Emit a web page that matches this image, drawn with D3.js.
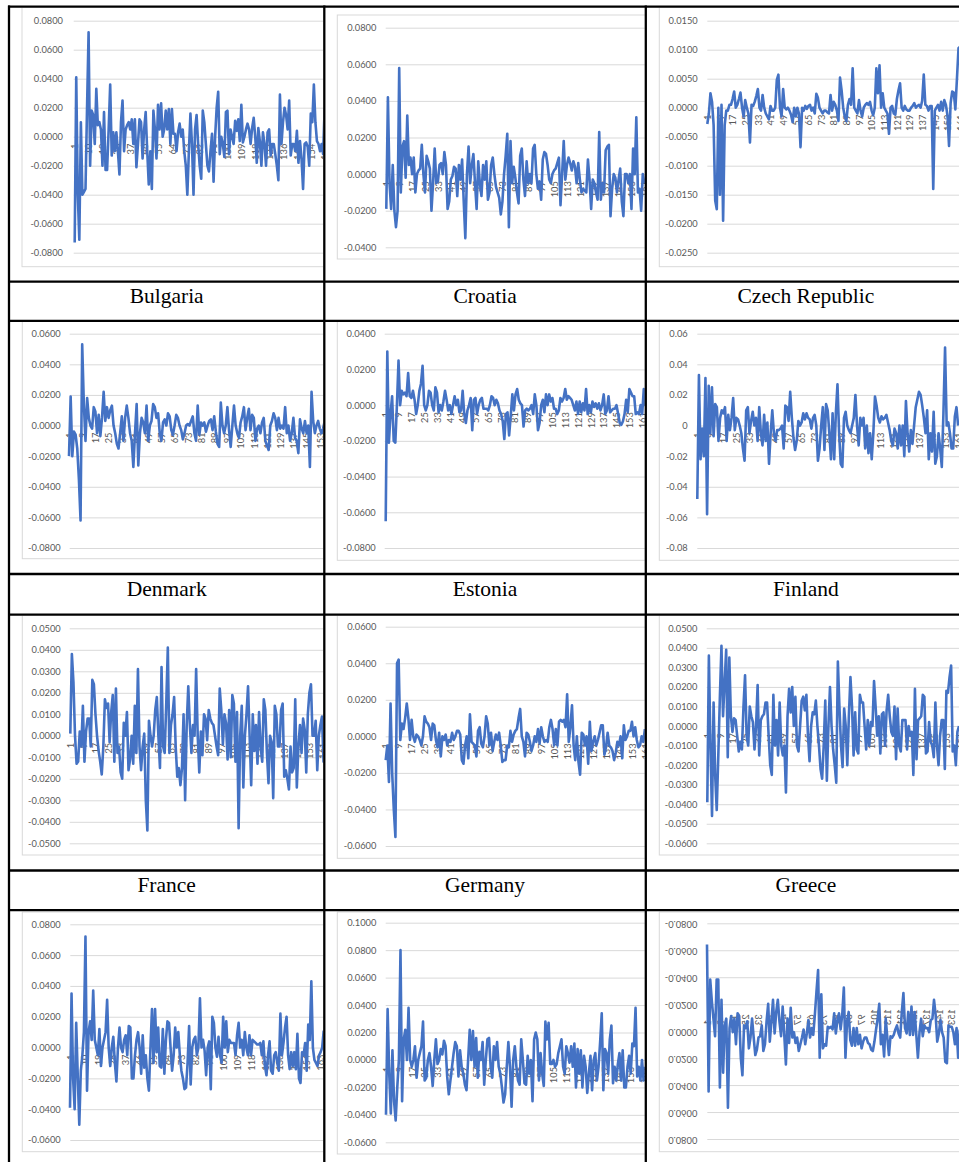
<!DOCTYPE html>
<html>
<head>
<meta charset="utf-8">
<script src="https://cdn.jsdelivr.net/npm/d3@7"></script>
<style>
  html, body { margin: 0; padding: 0; background: #fff; }
  svg { display: block; }
</style>
</head>
<body>
<svg id="sheet" width="959" height="1162"></svg>
<script>
// ---- series values (one per country panel) ----
const bulgaria = [-0.073,0.041,-0.040,-0.071,0.010,-0.040,-0.038,-0.036,0.020,0.072,
  -0.020,0.018,0.015,-0.005,0.033,0.008,0.010,0.005,-0.020,0.017,
  -0.023,-0.023,0.005,0.036,-0.013,0.003,-0.010,0.003,-0.010,-0.026,
  0.010,0.025,-0.010,0.005,0.008,0.010,0.005,0.012,-0.005,0.012,
  -0.021,-0.005,0.012,0.010,-0.015,0.005,0.017,-0.010,-0.033,-0.010,
  -0.036,0.018,0.005,-0.015,0.022,0.005,0.023,0.000,0.005,0.018,
  0.005,0.019,-0.005,0.019,0.002,0.002,-0.010,0.003,0.009,0.000,
  0.005,-0.010,-0.020,-0.040,-0.010,0.016,-0.005,-0.040,0.005,0.015,
  -0.005,-0.020,-0.029,0.018,0.010,-0.005,-0.020,-0.024,-0.010,0.002,
  -0.031,0.000,0.020,0.031,-0.012,0.000,-0.005,-0.014,0.017,0.018,
  -0.012,0.005,0.000,-0.005,0.011,0.004,0.012,-0.003,0.022,-0.004,
  0.000,0.005,0.009,0.005,-0.005,0.006,0.013,0.000,-0.018,0.006,
  -0.003,-0.020,0.003,-0.005,-0.020,0.003,0.005,-0.013,-0.005,-0.005,
  -0.012,-0.020,-0.030,0.029,-0.005,0.010,0.020,0.015,0.005,0.025,
  -0.013,-0.005,-0.005,-0.010,0.004,-0.018,-0.003,-0.015,-0.036,-0.005,
  -0.004,-0.007,-0.020,0.016,0.010,0.036,0.010,-0.003,-0.005,-0.010,
  -0.005,-0.012,0.020];

const croatia = [-0.019,0.042,-0.005,-0.019,0.005,-0.02,-0.029,-0.02,0.058,-0.01,
  0.015,0.018,-0.002,0.032,0.005,0.009,0.0,0.009,-0.01,0.0,
  0.002,0.003,0.016,0.0,-0.01,0.01,0.007,0.003,-0.02,-0.005,
  0.014,-0.005,-0.004,0.005,0.006,0.0,0.012,0.005,-0.019,-0.015,
  -0.003,-0.001,0.004,0.003,-0.012,0.005,-0.003,0.008,-0.015,-0.035,
  0.0,0.015,-0.005,0.005,0.011,-0.005,-0.019,0.007,-0.005,-0.012,
  0.005,-0.003,0.007,-0.014,-0.01,0.005,0.009,0.0,-0.007,-0.01,
  -0.013,-0.022,-0.015,0.0,0.01,0.022,-0.029,0.018,-0.005,0.004,
  -0.002,-0.01,-0.016,0.01,0.014,-0.003,-0.012,0.007,-0.005,0.0,
  -0.005,0.014,0.016,0.0,-0.008,-0.004,-0.014,0.008,0.012,0.011,
  0.005,-0.003,-0.005,0.0,0.002,0.003,0.006,0.009,-0.017,0.0,
  0.018,-0.003,0.005,0.009,0.006,0.002,0.007,0.004,-0.005,0.006,
  -0.003,-0.01,-0.008,-0.009,-0.01,0.008,-0.003,-0.019,-0.003,-0.005,
  -0.01,-0.014,0.023,-0.014,-0.005,-0.01,0.013,0.015,0.016,-0.023,
  -0.008,0.0,-0.002,-0.01,-0.003,0.003,-0.015,-0.023,0.0,0.0,
  -0.005,0.0,-0.019,0.014,0.0,0.031,-0.01,-0.008,-0.02,0.0,
  -0.005];

const czech = [-0.0028,-0.001,0.0025,0.001,-0.003,-0.016,-0.0175,0.0,-0.015,0.0005,-0.0195,-0.003,
  -0.0005,-0.0005,0.0005,0.0005,0.0015,0.0028,0.0,0.0005,0.0015,0.0026,0.0,-0.0015,0.0013,0.0,-0.001,
  -0.006,0.0005,0.0003,0.001,0.002,0.0032,0.0,-0.0005,0.0022,0.0,
  -0.001,-0.0015,-0.002,0.0003,-0.0005,-0.0005,0.0,0.0048,0.0057,
  0.0,-0.0015,0.0032,0.0,-0.0003,0.0,-0.0005,-0.0012,-0.0025,0.0,-0.0015,0.0,-0.001,-0.0068,
  0.0,-0.0005,0.0003,-0.0002,0.0003,0.0005,-0.0005,0.0,-0.001,0.0024,0.0017,0.0,
  -0.0005,-0.001,-0.0005,-0.0005,-0.0008,-0.001,0.0022,-0.0005,0.001,0.0005,-0.0005,-0.0023,0.0052,
  0.003,0.0,-0.0015,-0.0023,0.0005,0.0015,0.0005,0.0068,
  0.0,-0.0005,-0.001,0.0013,-0.0005,-0.0015,0.0,0.0005,0.0008,0.0005,0.001,-0.0005,-0.0013,0.0,0.0068,0.0025,0.0073,
  0.0,0.0025,0.0,-0.0005,-0.001,-0.0045,
  0.0,0.0003,-0.001,-0.0012,0.0015,0.003,0.0042,
  0.0,-0.0005,0.0003,-0.0003,-0.0005,-0.0005,0.0,0.0003,0.0008,0.0,0.0003,0.0005,0.0,0.0012,0.0057,
  0.0005,0.0003,-0.0005,0.0003,0.0003,-0.014,
  -0.0005,0.0,0.0005,-0.0005,0.001,-0.0005,0.0013,0.0005,-0.0013,-0.0066,
  0.0008,0.0028,0.0026,-0.0003,0.005,0.0103,0.0105];

const denmark = [-0.02,0.019,-0.02,-0.004,-0.006,-0.015,-0.035,-0.062,0.053,0.014,-0.01,0.018,0.005,
  0.0,-0.002,0.012,0.009,-0.005,0.007,-0.007,0.005,0.022,
  0.003,0.012,0.005,0.01,0.013,0.0,-0.005,-0.012,-0.015,-0.005,0.006,-0.01,0.005,
  0.013,0.005,-0.005,-0.01,-0.027,
  -0.005,0.014,-0.026,-0.005,0.005,0.002,-0.005,0.013,-0.01,0.0,0.003,0.014,0.012,0.005,0.008,-0.005,-0.01,0.002,0.004,0.0,
  0.008,0.006,-0.003,-0.006,0.0,0.007,0.005,0.0,-0.003,-0.009,-0.005,0.0,0.001,0.0,0.003,0.006,-0.005,-0.01,
  0.013,-0.006,0.002,0.0,0.002,-0.004,0.0,0.003,0.004,-0.003,0.006,-0.004,-0.012,-0.014,0.015,0.0,-0.005,0.0,0.012,-0.003,-0.014,0.0,0.013,
  0.0,-0.005,-0.008,0.002,0.006,0.012,-0.003,0.005,0.011,-0.003,0.007,0.005,-0.01,-0.002,0.0,-0.005,0.002,0.005,-0.01,-0.013,-0.016,
  0.0,0.003,0.008,0.005,-0.003,0.005,-0.002,0.0,-0.002,0.012,-0.005,0.0,-0.01,-0.005,0.005,-0.008,-0.01,-0.018,0.004,-0.002,
  -0.005,0.003,-0.005,0.0,-0.027,0.022,0.003,-0.005,0.0,0.003,-0.002,-0.005,-0.002,0.003,-0.002];

const estonia = [-0.065,0.03,-0.021,-0.005,0.005,-0.02,-0.021,0.0,0.025,
  0.0,0.008,0.006,0.007,0.005,0.018,
  0.005,0.004,0.008,0.003,-0.005,0.0,0.008,0.012,0.022,
  0.0,-0.003,0.0,0.008,0.007,0.0,-0.003,0.01,0.007,-0.004,0.0,-0.003,
  0.002,0.008,0.003,-0.003,0.0,-0.005,0.0,0.005,0.0,0.003,-0.004,-0.003,0.008,
  -0.005,-0.01,-0.003,0.0,0.004,-0.014,
  0.003,0.004,-0.005,0.0,0.003,0.004,-0.002,-0.002,-0.002,-0.003,0.0,0.005,0.004,0.0,0.003,0.001,-0.003,-0.005,-0.009,-0.019,
  -0.005,-0.004,-0.017,-0.006,0.006,-0.003,0.006,0.009,0.003,0.001,0.0,-0.012,-0.003,-0.002,-0.003,-0.002,0.0,-0.005,0.006,0.0,-0.014,
  -0.01,0.0,0.003,-0.004,0.006,0.0,0.006,0.002,0.004,
  -0.002,-0.002,-0.005,-0.003,0.004,0.002,0.004,0.009,
  0.003,0.005,0.004,0.003,0.0,-0.003,0.002,-0.005,0.002,-0.004,0.001,-0.003,0.009,
  -0.005,0.0,-0.004,0.002,-0.001,0.001,-0.002,0.001,-0.003,0.0,0.006,
  -0.005,-0.003,0.005,-0.004,-0.003,-0.002,-0.002,0.0,-0.005,-0.01,-0.011,
  -0.009,-0.005,0.003,-0.004,0.009,0.007,0.005,0.005,-0.005,-0.004,-0.005,0.0,-0.005,0.009,0.0,0.01];

const finland = [-0.048,0.033,-0.022,-0.002,-0.02,0.031,-0.058,0.026,-0.005,0.025,-0.007,0.014,0.012,-0.01,
  0.005,0.01,0.008,0.012,-0.01,0.007,-0.003,0.005,0.018,
  -0.003,0.005,0.004,0.0,-0.005,-0.015,-0.023,
  0.01,0.012,-0.005,0.003,0.009,0.0,0.005,-0.01,0.012,-0.005,-0.013,0.007,-0.01,0.002,-0.025,
  -0.005,0.01,-0.005,-0.01,-0.003,-0.003,-0.002,0.0,-0.015,0.013,0.012,0.003,0.022,
  0.005,-0.008,-0.016,-0.01,0.003,0.0,0.002,0.008,0.004,0.008,0.005,0.004,-0.002,0.005,0.007,0.0,-0.023,
  -0.015,0.0,0.012,-0.016,0.014,0.01,-0.005,-0.022,0.008,-0.022,0.008,0.027,
  -0.005,-0.025,-0.027,0.005,0.009,0.0,-0.003,-0.005,0.0,0.005,0.02,0.0,-0.013,0.005,0.0,0.005,-0.015,0.0,-0.018,-0.005,-0.022,-0.005,0.019,
  0.013,0.005,0.002,0.006,0.004,0.005,0.007,0.002,-0.003,-0.01,-0.013,-0.002,-0.005,-0.015,0.0,-0.013,0.0,-0.02,0.016,
  -0.005,-0.017,-0.003,-0.012,0.0,0.012,0.017,0.022,0.02,0.013,0.005,-0.005,0.01,-0.022,-0.005,-0.017,0.009,-0.025,-0.02,-0.005,
  -0.015,-0.027,0.008,0.051,0.0,0.002,-0.005,-0.015,-0.015,0.006,0.012,0.0];

const france = [0.001,0.038,0.025,0.0,-0.013,-0.012,0.002,-0.005,0.014,-0.012,0.002,0.008,0.008,-0.005,0.026,0.024,0.01,0.0,-0.007,-0.012,
  -0.018,-0.005,0.017,0.013,0.015,-0.003,0.011,0.019,-0.012,0.022,-0.008,-0.005,-0.017,-0.02,0.006,0.0,0.011,-0.016,-0.011,0.0,
  -0.013,0.014,-0.008,0.031,
  -0.005,-0.016,-0.005,0.001,-0.03,-0.044,
  0.007,0.0,-0.005,0.0,0.012,0.018,0.0,-0.015,0.032,-0.005,-0.008,0.015,0.041,
  -0.008,0.005,0.01,0.018,-0.005,-0.019,-0.015,-0.023,-0.015,0.01,-0.03,
  0.005,0.023,0.005,-0.008,0.005,0.0,0.031,0.0,-0.017,0.002,-0.009,0.01,0.008,-0.002,0.012,0.008,0.006,0.005,0.0,-0.005,-0.009,0.022,
  0.012,-0.004,0.01,0.006,-0.011,0.012,-0.01,0.019,0.015,-0.012,0.011,-0.043,
  0.0,0.014,-0.024,0.0,0.01,0.023,0.0,-0.023,0.01,-0.007,0.005,-0.013,0.011,-0.005,-0.012,0.017,0.012,-0.008,-0.022,0.0,
  -0.003,-0.029,0.014,0.01,-0.005,-0.005,0.012,0.015,
  -0.019,-0.016,-0.02,-0.025,-0.005,-0.017,-0.015,0.017,
  -0.024,-0.005,0.005,-0.008,0.008,0.003,-0.017,0.01,0.02,0.024,0.0,0.0,0.007,-0.016,0.0,0.005,0.009,-0.012,0.022];

const germany = [-0.013,-0.005,-0.025,0.018,-0.02,-0.04,-0.055,0.04,0.042,-0.002,
  0.007,0.004,0.01,0.018,0.01,-0.002,0.009,0.0,-0.003,0.001,0.0,-0.002,-0.005,0.0,
  0.011,0.008,0.007,0.005,-0.002,0.007,0.006,-0.002,-0.006,0.002,
  -0.011,0.0,-0.002,0.001,-0.005,-0.002,-0.003,0.002,-0.002,0.0,0.003,0.003,0.001,
  -0.013,-0.015,-0.005,0.0,-0.012,0.012,-0.003,-0.004,-0.005,-0.011,0.003,0.005,-0.004,-0.006,0.0,
  0.011,0.007,-0.005,0.002,-0.008,-0.003,0.001,-0.002,0.002,-0.005,-0.014,
  -0.013,-0.013,-0.005,-0.006,0.003,-0.003,0.001,0.003,0.004,0.01,0.015,0.0,-0.003,-0.011,0.002,0.001,-0.003,-0.008,-0.005,0.0,
  -0.003,0.004,-0.004,0.005,0.0,-0.003,-0.002,-0.003,0.005,0.009,0.004,-0.005,0.004,-0.005,0.008,0.009,0.008,0.009,0.005,
  0.023,
  -0.003,0.005,0.017,-0.005,-0.013,0.0,-0.014,-0.021,0.002,0.001,-0.005,0.0,-0.015,0.008,-0.008,-0.003,0.0,-0.005,-0.002,0.002,
  0.006,0.006,-0.01,-0.006,0.002,-0.005,-0.006,-0.008,-0.013,-0.009,-0.003,-0.005,0.0,-0.012,0.006,-0.002,0.0,0.003,0.003,0.008,
  0.0,0.005,-0.002,-0.006,-0.005,0.0,-0.003,0.004];

const greece = [-0.039,0.036,-0.01,-0.046,0.012,-0.025,-0.043,-0.015,0.015,0.041,0.005,0.022,0.039,-0.016,0.035,0.005,-0.003,0.004,0.003,-0.005,
  -0.013,-0.008,-0.012,0.01,0.026,-0.005,-0.01,0.01,0.005,0.002,-0.012,0.0,0.021,-0.015,0.003,
  0.005,0.006,0.012,0.012,-0.005,-0.02,-0.025,0.016,-0.01,0.003,-0.015,0.012,-0.01,-0.015,-0.01,-0.034,
  0.005,0.019,0.007,0.02,0.0,0.015,-0.01,-0.013,0.0,
  0.013,0.015,0.008,0.016,-0.005,-0.018,0.0,0.007,0.006,0.013,0.0,-0.01,-0.022,-0.027,-0.01,0.013,-0.028,0.0,0.02,0.0,-0.012,-0.02,-0.029,0.033,
  0.01,-0.01,-0.021,0.009,0.0,-0.02,0.005,0.025,0.01,-0.015,0.007,-0.012,-0.014,0.016,0.012,0.012,0.0,-0.012,0.003,-0.01,
  0.002,0.0,0.023,0.01,-0.005,0.005,-0.014,0.006,0.007,-0.01,0.008,
  0.016,0.005,-0.003,-0.005,0.01,-0.017,0.009,-0.01,-0.013,0.003,0.003,0.003,-0.012,0.0,-0.005,-0.003,-0.025,
  0.019,-0.017,0.003,0.004,0.005,0.016,0.015,-0.014,-0.013,0.002,-0.008,-0.01,-0.016,0.012,-0.01,-0.02,-0.005,0.003,0.003,-0.022,
  0.018,0.017,0.025,0.031,-0.013,-0.01,-0.02,-0.003,0.0];

// bottom row: country names are cut off in the picture
const row4Left = [-0.039,0.035,-0.02,-0.04,0.016,-0.018,-0.05,-0.015,-0.005,0.01,0.072,-0.028,0.01,0.017,0.005,0.037,0.005,0.0,-0.005,0.012,
  -0.012,0.0,0.005,0.01,0.031,0.0,-0.012,0.0,0.007,-0.01,-0.022,0.0,0.013,0.0,-0.003,0.005,0.008,-0.005,0.014,0.013,
  -0.02,-0.02,-0.005,0.005,0.01,0.0,-0.017,0.008,-0.013,-0.005,-0.02,-0.028,0.0,0.025,-0.01,0.025,-0.003,0.013,-0.012,-0.013,
  0.012,-0.017,0.005,0.017,0.016,0.0,-0.015,-0.005,0.013,0.0,0.01,-0.005,-0.015,-0.02,-0.027,-0.026,-0.01,0.014,-0.024,0.0,
  0.005,0.007,-0.005,0.0,0.032,
  0.0,0.005,-0.002,-0.018,0.0,0.004,-0.027,0.02,0.016,0.0,-0.006,0.007,-0.005,-0.01,0.02,0.0,0.017,-0.003,0.005,0.003,
  0.003,0.003,-0.005,0.008,0.016,0.0,0.005,-0.005,0.01,0.0,-0.005,0.008,-0.005,0.005,0.004,0.003,0.002,0.002,0.003,-0.005,
  0.004,-0.012,-0.018,-0.005,0.004,-0.015,-0.017,-0.005,-0.003,-0.01,-0.015,0.022,-0.005,0.003,
  0.013,0.02,-0.005,-0.014,-0.003,-0.012,-0.003,-0.014,0.009,-0.02,-0.023,-0.003,-0.005,0.003,-0.015,0.015,0.005,0.043,
  0.0,-0.008,-0.01,-0.012,-0.005,-0.003,0.0,0.011];

const row4Middle = [-0.04,0.037,-0.01,-0.039,0.007,-0.03,-0.044,-0.02,0.0,0.08,
  -0.03,0.015,0.022,0.0,0.038,0.0,-0.005,0.0,0.01,-0.013,
  0.0,0.005,0.01,0.028,-0.015,-0.013,0.0,0.005,-0.005,-0.019,
  0.0,0.015,-0.003,0.0,0.008,0.004,0.014,0.01,-0.012,-0.025,
  -0.015,-0.005,0.005,0.013,0.01,-0.012,0.007,-0.005,-0.01,-0.018,
  -0.022,0.0,0.022,0.0,0.021,-0.005,0.016,-0.013,0.006,0.0,
  0.013,-0.018,0.0,0.015,0.016,-0.005,-0.013,0.01,0.0,0.013,
  -0.005,-0.01,-0.02,-0.031,-0.025,-0.005,0.013,-0.005,-0.034,0.0,
  0.01,-0.005,-0.015,-0.018,0.015,0.0,-0.017,-0.018,0.003,-0.01,
  0.0,-0.03,0.015,0.02,0.015,-0.015,0.005,-0.01,-0.019,0.028,
  0.015,0.027,-0.003,-0.003,0.0,-0.005,-0.003,0.005,0.01,0.015,
  -0.005,-0.01,0.01,0.005,-0.002,0.01,-0.005,0.012,-0.02,0.008,
  -0.01,0.007,-0.02,0.003,-0.005,-0.024,-0.01,0.003,-0.022,0.0,
  0.005,-0.015,-0.005,0.013,0.034,-0.022,0.008,0.005,-0.01,0.015,
  0.025,-0.017,-0.005,-0.015,-0.003,0.005,-0.015,0.007,-0.02,-0.02,
  -0.005,0.003,-0.01,0.012,0.01,0.038,-0.012,-0.005,-0.015,0.0,
  -0.015,-0.005];

// this panel is printed upside down in the source document
const row4Right = [-0.065,0.044,-0.039,-0.023,-0.010,0.003,-0.039,-0.039,0.041,-0.024,
  0.030,-0.005,-0.010,0.056,-0.003,-0.012,0.0,-0.01,0.009,-0.014,
  -0.012,0.019,0.032,-0.005,-0.003,-0.008,0.012,0.004,-0.01,0.004,
  0.017,0.013,0.004,0.003,-0.005,0.014,0.009,-0.008,-0.021,0.007,
  -0.008,-0.024,0.001,-0.015,-0.024,-0.008,0.003,-0.019,0.002,0.024,
  -0.01,0.008,-0.018,0.004,0.0,0.008,0.004,0.014,0.009,0.004,
  -0.002,0.009,0.001,-0.009,0.004,-0.003,0.002,-0.013,-0.030,-0.046,
  0.019,-0.028,0.012,0.009,0.01,-0.004,-0.003,-0.004,-0.002,-0.014,
  0.001,-0.009,-0.014,-0.002,-0.013,-0.033,0.019,-0.008,-0.015,0.006,
  0.01,-0.003,0.01,-0.003,0.009,0.002,0.012,0.007,0.004,0.004,
  0.008,0.009,0.013,0.014,0.007,-0.002,-0.01,-0.021,0.009,0.002,
  0.018,-0.01,0.004,0.017,0.003,0.004,0.002,-0.002,-0.005,0.001,
  0.004,-0.015,-0.029,-0.003,0.001,-0.015,0.002,-0.019,0.002,-0.015,
  0.002,0.019,0.0,-0.01,0.003,-0.005,-0.003,-0.003,0.0,-0.009,
  -0.01,-0.024,-0.013,0.007,0.001,-0.009,0.0,0.004,0.022,0.023,
  -0.005,-0.004,-0.004,0.0,0.009,-0.003,0.019,-0.002];

// ---- axis tick values ----
const ticks08 = [-0.08, -0.06, -0.04, -0.02, 0, 0.02, 0.04, 0.06, 0.08];
const ticksCroatia = [-0.04, -0.02, 0, 0.02, 0.04, 0.06, 0.08];
const ticksCzech = [-0.025, -0.02, -0.015, -0.01, -0.005, 0, 0.005, 0.01, 0.015];
const ticksDenmark = [-0.08, -0.06, -0.04, -0.02, 0, 0.02, 0.04, 0.06];
const ticksEstonia = [-0.08, -0.06, -0.04, -0.02, 0, 0.02, 0.04];
const ticksFrance = [-0.05, -0.04, -0.03, -0.02, -0.01, 0, 0.01, 0.02, 0.03, 0.04, 0.05];
const ticksGermany = [-0.06, -0.04, -0.02, 0, 0.02, 0.04, 0.06];
const ticksGreece = [-0.06, -0.05, -0.04, -0.03, -0.02, -0.01, 0, 0.01, 0.02, 0.03, 0.04, 0.05];
const ticksRow4Left = [-0.06, -0.04, -0.02, 0, 0.02, 0.04, 0.06, 0.08];
const ticksRow4Middle = [-0.06, -0.04, -0.02, 0, 0.02, 0.04, 0.06, 0.08, 0.1];

const labels = ['Bulgaria', 'Croatia', 'Czech Republic',
                'Denmark', 'Estonia', 'Finland',
                'France', 'Germany', 'Greece'];

const fmt4 = d => d === 0 ? '0.0000' : d.toFixed(4);
const fmt2 = d => d === 0 ? '0' : d.toFixed(2);

const panels = [
  { values: bulgaria,   yTicks: ticks08,         fmt: fmt4, step: 9 },
  { values: croatia,    yTicks: ticksCroatia,    fmt: fmt4, step: 8 },
  { values: czech,      yTicks: ticksCzech,      fmt: fmt4, step: 8 },
  { values: denmark,    yTicks: ticksDenmark,    fmt: fmt4, step: 8 },
  { values: estonia,    yTicks: ticksEstonia,    fmt: fmt4, step: 8 },
  { values: finland,    yTicks: ticksDenmark,    fmt: fmt2, step: 8 },
  { values: france,     yTicks: ticksFrance,     fmt: fmt4, step: 8 },
  { values: germany,    yTicks: ticksGermany,    fmt: fmt4, step: 8 },
  { values: greece,     yTicks: ticksGreece,     fmt: fmt4, step: 8 },
  { values: row4Left,   yTicks: ticksRow4Left,   fmt: fmt4, step: 9 },
  { values: row4Middle, yTicks: ticksRow4Middle, fmt: fmt4, step: 8 },
  { values: row4Right,  yTicks: ticks08,         fmt: fmt4, step: 8, flipped: true }
];

// ---- page geometry (table + each pasted Excel chart) ----
const colX = [9, 324.3, 645.8, 966];
const rowLines = [6.7, 281.7, 320.8, 574, 614.7, 870.5, 910.2];
const chartRows = [[6.7, 281.7], [320.8, 574], [614.7, 870.5], [910.2, 1175]];
const labelRows = [[281.7, 320.8], [574, 614.7], [870.5, 910.2]];

// top/bottom = pixel y of highest/lowest y tick
const layout = [
  { top: 20.7,  bottom: 252.7,  labelRight: 63,    gridLeft: 73.7,  x0: 74.7,  dx: 1.543, frame: [22, 7, 266.7] },
  { top: 27.7,  bottom: 247.3,  labelRight: 376.3, gridLeft: 385.7, x0: 386.3, dx: 1.613, frame: [337.3, 15, 259] },
  { top: 20.7,  bottom: 252.7,  labelRight: 697.7, gridLeft: 707.3, x0: 707.3, dx: 1.58,  frame: [659.3, 7, 266.7] },
  { top: 333.7, bottom: 548,    labelRight: 60.7,  gridLeft: 69.7,  x0: 69,    dx: 1.65,  frame: [22.3, 321, 558.7] },
  { top: 333.7, bottom: 548,    labelRight: 375.7, gridLeft: 384.7, x0: 385.7, dx: 1.603, frame: [337.3, 321, 560.3] },
  { top: 333.7, bottom: 548,    labelRight: 687.7, gridLeft: 697.3, x0: 697.3, dx: 1.63,  frame: [659.3, 321, 560.3] },
  { top: 628.3, bottom: 843.3,  labelRight: 60.7,  gridLeft: 69.7,  x0: 70.3,  dx: 1.573, frame: [22.3, 615, 855] },
  { top: 626.7, bottom: 846,    labelRight: 376.3, gridLeft: 385.7, x0: 385.7, dx: 1.62,  frame: [337.3, 615, 858.3] },
  { top: 628.3, bottom: 843.3,  labelRight: 697.3, gridLeft: 706.7, x0: 707.3, dx: 1.573, frame: [659.3, 615, 855] },
  { top: 924.3, bottom: 1140,   labelRight: 60.7,  gridLeft: 70.3,  x0: 70,    dx: 1.547, frame: [22.3, 912, 1151.7] },
  { top: 922.7, bottom: 1142.3, labelRight: 376.3, gridLeft: 385.7, x0: 386,   dx: 1.61,  frame: [337.3, 912, 1154] },
  { top: 924.3, bottom: 1140,   labelRight: 697.3, gridLeft: 707.3, x0: 707,   dx: 1.61,  frame: [659.3, 912.6, 1152.3] }
];

const svg = d3.select('#sheet');
svg.append('rect').attr('width', 959).attr('height', 1162).attr('fill', '#fff');

panels.forEach((p, k) => drawPanel(p, layout[k], k));

function drawPanel(p, L, k) {
  const col = k % 3, row = Math.floor(k / 3);
  const cellL = colX[col], cellR = colX[col + 1];
  const [cellT, cellB] = chartRows[row];

  svg.append('clipPath').attr('id', 'cell' + k)
    .append('rect')
    .attr('x', cellL + 1).attr('y', cellT + 1)
    .attr('width', cellR - cellL - 2).attr('height', cellB - cellT - 2);

  const outer = svg.append('g').attr('clip-path', `url(#cell${k})`);
  const g = outer.append('g');
  if (p.flipped) g.attr('transform', `translate(0,${L.top + L.bottom}) scale(1,-1)`);

  const n = p.values.length;
  const y = d3.scaleLinear()
    .domain([p.yTicks[0], p.yTicks[p.yTicks.length - 1]])
    .range([L.bottom, L.top]);
  const x = d3.scaleLinear()
    .domain([1, n])
    .range([L.x0, L.x0 + (n - 1) * L.dx]);

  // chart area border
  g.append('rect')
    .attr('x', L.frame[0]).attr('y', L.frame[1])
    .attr('width', cellR - L.frame[0] + 20).attr('height', L.frame[2] - L.frame[1])
    .attr('fill', '#fff').attr('stroke', '#d9d9d9').attr('stroke-width', 1);

  // value axis with gridlines
  const yAxis = d3.axisLeft(y)
    .tickValues(p.yTicks)
    .tickFormat(p.fmt)
    .tickSize(-(cellR - L.gridLeft + 10))
    .tickPadding(L.gridLeft - L.labelRight);
  g.append('g')
    .attr('transform', `translate(${L.gridLeft},0)`)
    .call(yAxis)
    .call(a => {
      a.select('.domain').remove();
      a.selectAll('line').attr('stroke', '#d9d9d9').attr('stroke-width', 1);
      a.selectAll('text')
        .attr('fill', '#595959')
        .style('font-family', 'Lato, sans-serif')
        .style('font-size', '9.3px');
    });

  // category axis: labels rotated, hanging below the zero line
  const xAxis = d3.axisBottom(x)
    .tickValues(d3.range(1, n + 1, p.step))
    .tickSize(0);
  g.append('g')
    .attr('transform', `translate(0,${y(0)})`)
    .call(xAxis)
    .call(a => {
      a.select('.domain').remove();
      a.selectAll('text')
        .attr('transform', 'rotate(-90)')
        .attr('x', -7).attr('y', 0).attr('dy', '0.35em')
        .attr('text-anchor', 'end')
        .attr('fill', '#595959')
        .style('font-family', 'Lato, sans-serif')
        .style('font-size', '9.3px');
    });

  // the series
  const line = d3.line()
    .x((d, i) => x(i + 1))
    .y(d => y(d));
  g.append('path')
    .datum(p.values)
    .attr('fill', 'none')
    .attr('stroke', '#4472c4')
    .attr('stroke-width', 2.6)
    .attr('stroke-linejoin', 'round')
    .attr('d', line);
}

// country names under the charts
labels.forEach((name, k) => {
  const col = k % 3, row = Math.floor(k / 3);
  const cx = (colX[col] + colX[col + 1]) / 2;
  svg.append('text')
    .attr('x', cx).attr('y', labelRows[row][0] + 21.5)
    .attr('text-anchor', 'middle')
    .style('font-family', '"Liberation Serif", "Times New Roman", serif')
    .style('font-size', '21.5px')
    .attr('fill', '#000')
    .text(name);
});

// table rules
const rules = svg.append('g').attr('stroke', '#000').attr('stroke-width', 2.3);
rowLines.forEach(yy => {
  rules.append('line').attr('x1', 8).attr('x2', 959).attr('y1', yy).attr('y2', yy);
});
colX.slice(0, 3).forEach(xx => {
  rules.append('line').attr('x1', xx).attr('x2', xx).attr('y1', 5.5).attr('y2', 1162);
});
</script>
</body>
</html>
